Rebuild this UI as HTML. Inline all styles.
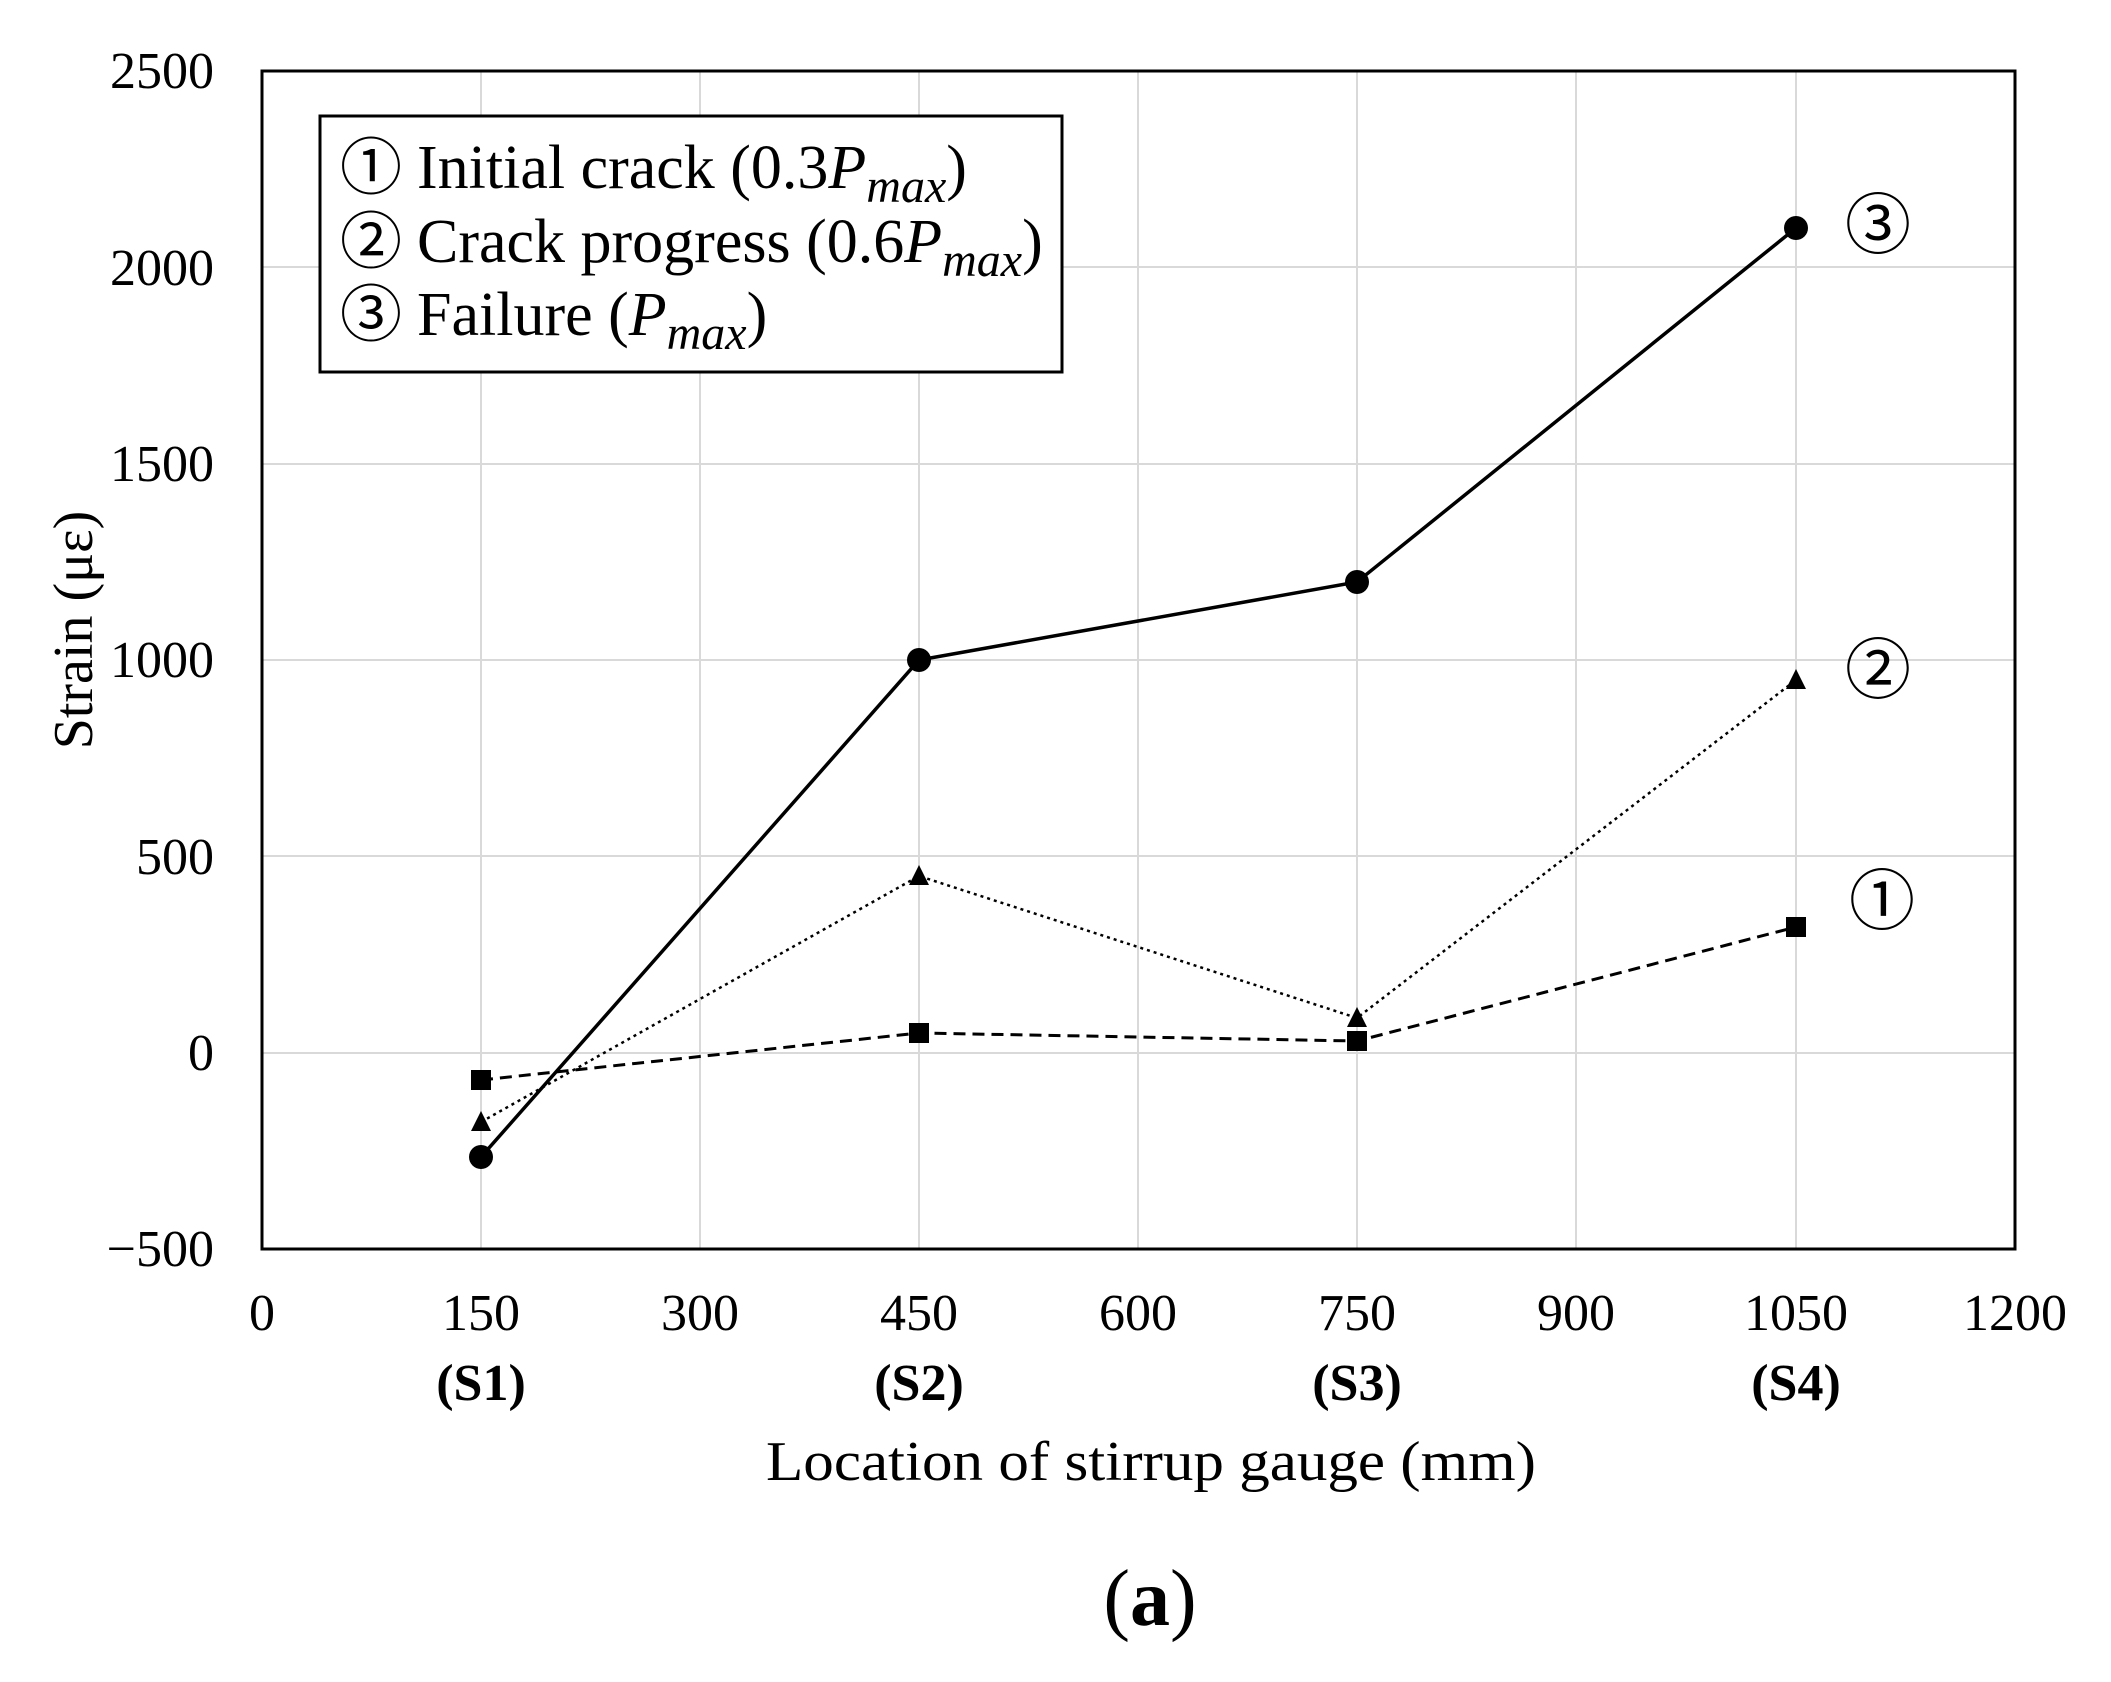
<!DOCTYPE html>
<html><head><meta charset="utf-8"><style>html,body{margin:0;padding:0;background:#fff}svg{display:block}</style></head>
<body>
<svg width="2111" height="1682" viewBox="0 0 2111 1682" xmlns="http://www.w3.org/2000/svg" font-family="'Liberation Serif', serif" fill="#000">
<g stroke="#d9d9d9" stroke-width="2">
<line x1="481" y1="71" x2="481" y2="1249"/><line x1="700" y1="71" x2="700" y2="1249"/><line x1="919" y1="71" x2="919" y2="1249"/><line x1="1138" y1="71" x2="1138" y2="1249"/><line x1="1357" y1="71" x2="1357" y2="1249"/><line x1="1576" y1="71" x2="1576" y2="1249"/><line x1="1796" y1="71" x2="1796" y2="1249"/>
<line x1="262" y1="267" x2="2015" y2="267"/><line x1="262" y1="464" x2="2015" y2="464"/><line x1="262" y1="660" x2="2015" y2="660"/><line x1="262" y1="856" x2="2015" y2="856"/><line x1="262" y1="1053" x2="2015" y2="1053"/>
</g>
<rect x="262" y="71" width="1753" height="1178" fill="none" stroke="#000" stroke-width="3"/>
<g font-size="52" text-anchor="end">
<text x="214" y="88">2500</text><text x="214" y="285">2000</text><text x="214" y="481">1500</text><text x="214" y="677">1000</text><text x="214" y="874">500</text><text x="214" y="1070">0</text><text x="214" y="1266">−500</text>
</g>
<g font-size="52" text-anchor="middle">
<text x="262" y="1330">0</text><text x="481" y="1330">150</text><text x="700" y="1330">300</text><text x="919" y="1330">450</text><text x="1138" y="1330">600</text><text x="1357" y="1330">750</text><text x="1576" y="1330">900</text><text x="1796" y="1330">1050</text><text x="2015" y="1330">1200</text>
</g>
<g font-size="52" font-weight="bold" text-anchor="middle">
<text x="481" y="1400">(S1)</text><text x="919" y="1400">(S2)</text><text x="1357" y="1400">(S3)</text><text x="1796" y="1400">(S4)</text>
</g>
<text x="1151" y="1480" font-size="56" text-anchor="middle" textLength="770" lengthAdjust="spacingAndGlyphs">Location of stirrup gauge (mm)</text>
<text x="1150" y="1625" font-size="80" text-anchor="middle">(<tspan font-weight="bold">a</tspan>)</text>
<text transform="translate(92,630) rotate(-90)" font-size="56" text-anchor="middle">Strain (με)</text>
<polyline points="481,1080 919,1033 1357,1041 1796,927" fill="none" stroke="#000" stroke-width="3" stroke-dasharray="12,7"/>
<g><rect x="471" y="1070" width="20" height="20"/><rect x="909" y="1023" width="20" height="20"/><rect x="1347" y="1031" width="20" height="20"/><rect x="1786" y="917" width="20" height="20"/></g>
<polyline points="481,1122 919,876 1357,1018 1796,680" fill="none" stroke="#000" stroke-width="2.5" stroke-dasharray="3,4"/>
<g><polygon points="481,1111 491,1131 471,1131"/><polygon points="919,865 929,885 909,885"/><polygon points="1357,1007 1367,1027 1347,1027"/><polygon points="1796,669 1806,689 1786,689"/></g>
<polyline points="481,1157 919,660 1357,582 1796,228" fill="none" stroke="#000" stroke-width="3.5"/>
<g><circle cx="481" cy="1157" r="12"/><circle cx="919" cy="660" r="12"/><circle cx="1357" cy="582" r="12"/><circle cx="1796" cy="228" r="12"/></g>
<g font-family="'Liberation Sans','Noto Sans CJK JP',sans-serif" font-size="66" text-anchor="middle">
<text x="1878" y="248">③</text><text x="1878" y="693">②</text><text x="1882" y="924">①</text>
</g>
<rect x="320" y="116" width="742" height="256" fill="#fff" stroke="#000" stroke-width="3"/>
<g font-family="'Liberation Sans','Noto Sans CJK JP',sans-serif" font-size="62" text-anchor="middle">
<text x="371" y="189">①</text><text x="371" y="263">②</text><text x="371" y="336">③</text>
</g>
<g font-size="62">
<text x="417" y="188">Initial crack (0.3<tspan font-style="italic">P</tspan><tspan font-style="italic" font-size="48" dy="14">max</tspan><tspan dy="-14">)</tspan></text>
<text x="417" y="262">Crack progress (0.6<tspan font-style="italic">P</tspan><tspan font-style="italic" font-size="48" dy="14">max</tspan><tspan dy="-14">)</tspan></text>
<text x="417" y="335">Failure (<tspan font-style="italic">P</tspan><tspan font-style="italic" font-size="48" dy="14">max</tspan><tspan dy="-14">)</tspan></text>
</g>
</svg>
</body></html>
